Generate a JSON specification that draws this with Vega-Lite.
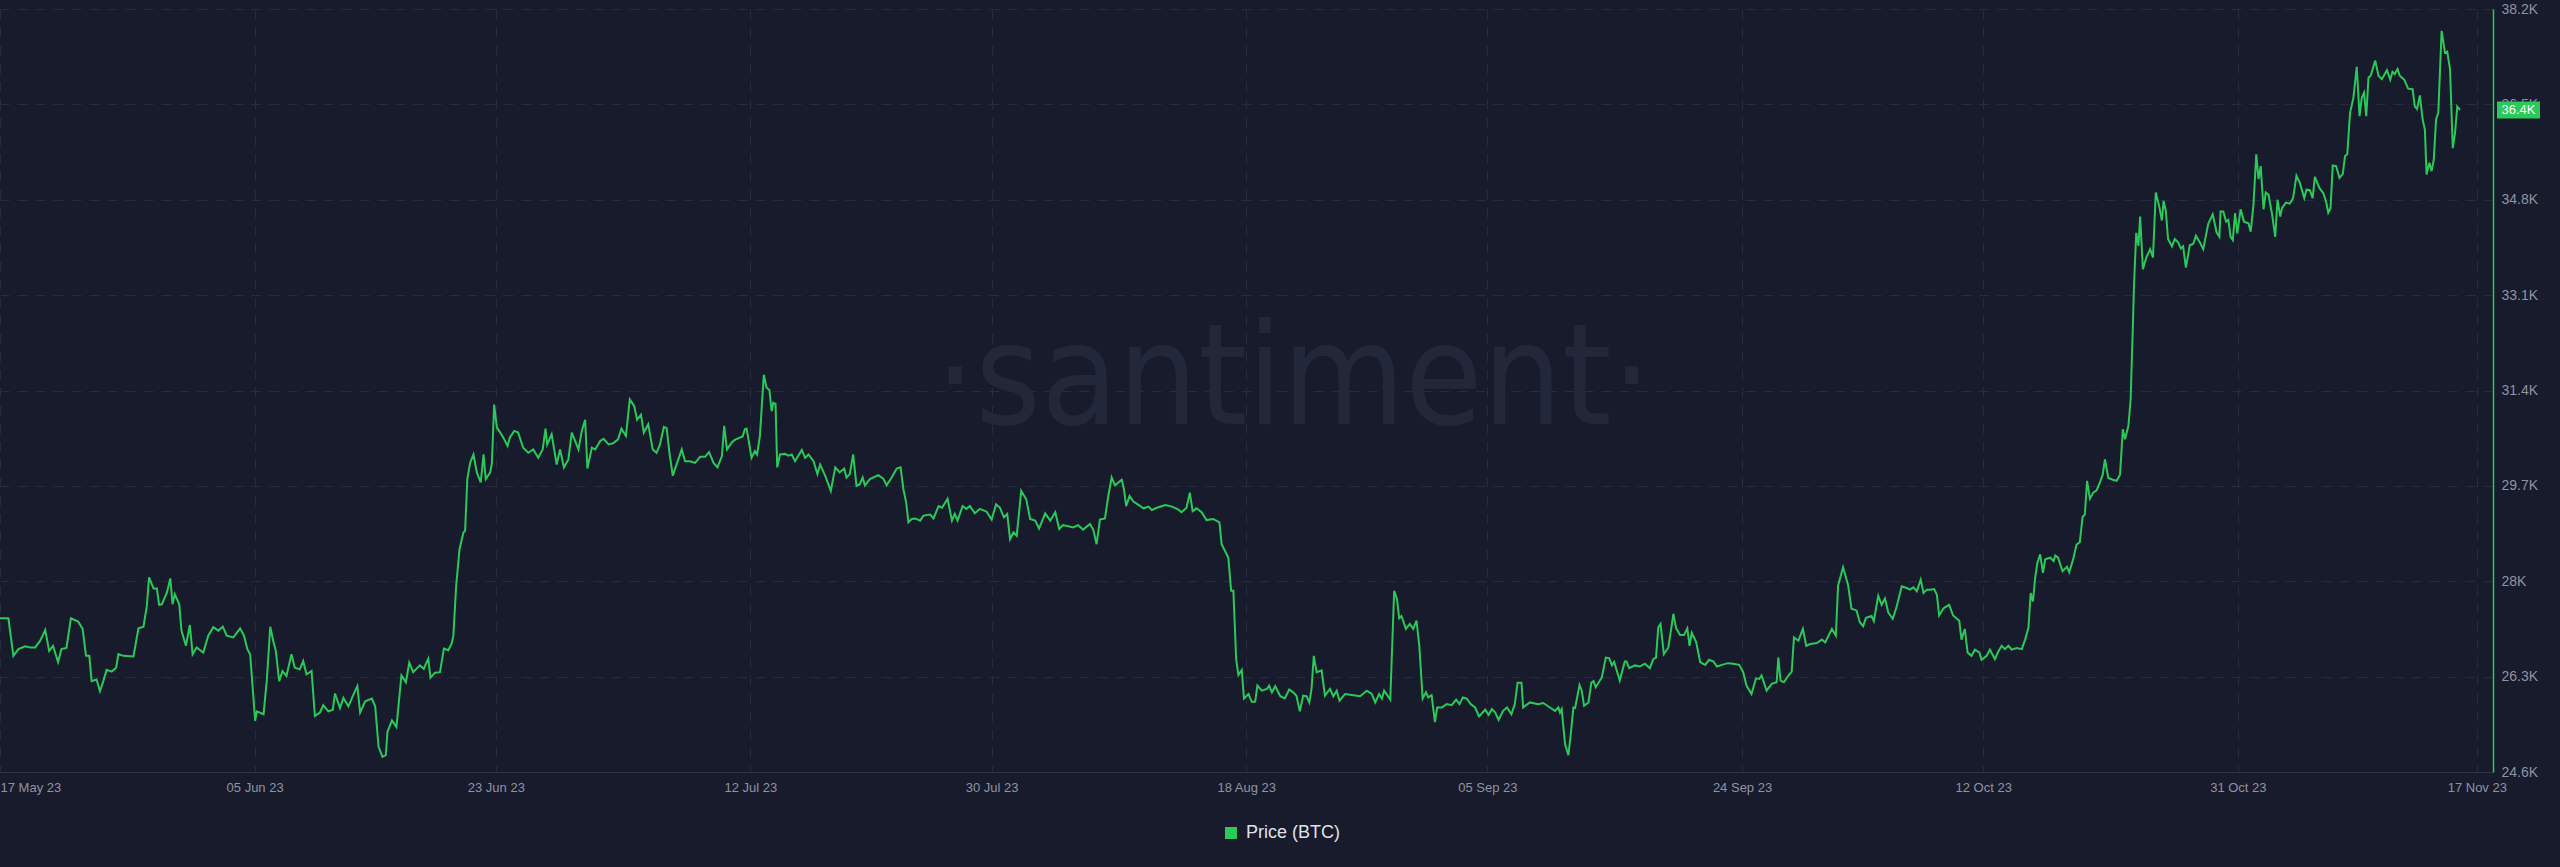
{
"$schema": "https://vega.github.io/schema/vega-lite/v6.json",
"width": 2493,
"height": 763,
"autosize": {"type": "none"},
"padding": {"left": 0, "top": 9, "right": 67, "bottom": 95},
"background": "#181b2b",
"config": {"view": {"stroke": null}, "font": "Liberation Sans"},
"datasets": {
"btc": [
{"time":"2023-05-17T00:00","price":27340},{"time":"2023-05-17T15:00","price":27340},{"time":"2023-05-18T00:00","price":26670},{"time":"2023-05-18T09:00","price":26790},{"time":"2023-05-18T21:00","price":26840},{"time":"2023-05-19T06:00","price":26820},{"time":"2023-05-19T15:00","price":26820},{"time":"2023-05-20T00:00","price":26940},{"time":"2023-05-20T09:00","price":27130},{"time":"2023-05-20T16:00","price":26760},{"time":"2023-05-20T23:00","price":26850},{"time":"2023-05-21T08:00","price":26560},{"time":"2023-05-21T14:00","price":26790},{"time":"2023-05-21T23:00","price":26810},{"time":"2023-05-22T07:00","price":27340},{"time":"2023-05-22T20:00","price":27280},{"time":"2023-05-23T04:00","price":27150},{"time":"2023-05-23T10:00","price":26670},{"time":"2023-05-23T16:00","price":26670},{"time":"2023-05-23T20:00","price":26220},{"time":"2023-05-24T05:00","price":26250},{"time":"2023-05-24T11:00","price":26040},{"time":"2023-05-24T17:00","price":26220},{"time":"2023-05-24T23:00","price":26420},{"time":"2023-05-25T08:00","price":26390},{"time":"2023-05-25T16:00","price":26460},{"time":"2023-05-25T20:00","price":26700},{"time":"2023-05-26T05:00","price":26670},{"time":"2023-05-26T23:00","price":26660},{"time":"2023-05-27T08:00","price":27160},{"time":"2023-05-27T17:00","price":27190},{"time":"2023-05-27T23:00","price":27560},{"time":"2023-05-28T03:00","price":28070},{"time":"2023-05-28T11:00","price":27870},{"time":"2023-05-28T17:00","price":27870},{"time":"2023-05-28T21:00","price":27580},{"time":"2023-05-29T02:00","price":27590},{"time":"2023-05-29T11:00","price":27800},{"time":"2023-05-29T17:00","price":28050},{"time":"2023-05-29T21:00","price":27590},{"time":"2023-05-30T01:00","price":27770},{"time":"2023-05-30T09:00","price":27590},{"time":"2023-05-30T13:00","price":27120},{"time":"2023-05-30T21:00","price":26850},{"time":"2023-05-31T04:00","price":27220},{"time":"2023-05-31T09:00","price":26700},{"time":"2023-05-31T16:00","price":26820},
{"time":"2023-06-01T04:00","price":26730},{"time":"2023-06-01T13:00","price":27030},{"time":"2023-06-01T22:00","price":27180},{"time":"2023-06-02T07:00","price":27120},{"time":"2023-06-02T15:00","price":27190},{"time":"2023-06-02T22:00","price":27030},{"time":"2023-06-03T10:00","price":27000},{"time":"2023-06-03T22:00","price":27160},{"time":"2023-06-04T05:00","price":27030},{"time":"2023-06-04T11:00","price":26790},{"time":"2023-06-04T16:00","price":26700},{"time":"2023-06-05T01:00","price":25510},{"time":"2023-06-05T04:00","price":25680},{"time":"2023-06-05T16:00","price":25630},{"time":"2023-06-05T22:00","price":26250},{"time":"2023-06-06T04:00","price":27190},{"time":"2023-06-06T10:00","price":26910},{"time":"2023-06-06T14:00","price":26760},{"time":"2023-06-06T20:00","price":26220},{"time":"2023-06-07T02:00","price":26400},{"time":"2023-06-07T09:00","price":26310},{"time":"2023-06-07T18:00","price":26700},{"time":"2023-06-08T00:00","price":26460},{"time":"2023-06-08T09:00","price":26430},{"time":"2023-06-08T15:00","price":26580},{"time":"2023-06-08T21:00","price":26340},{"time":"2023-06-09T06:00","price":26400},{"time":"2023-06-09T12:00","price":25600},{"time":"2023-06-09T21:00","price":25660},{"time":"2023-06-10T03:00","price":25790},{"time":"2023-06-10T12:00","price":25680},{"time":"2023-06-10T20:00","price":25710},{"time":"2023-06-11T00:00","price":26000},{"time":"2023-06-11T09:00","price":25740},{"time":"2023-06-11T15:00","price":25920},{"time":"2023-06-12T00:00","price":25770},{"time":"2023-06-12T09:00","price":25980},{"time":"2023-06-12T16:00","price":26130},{"time":"2023-06-12T21:00","price":25660},{"time":"2023-06-13T06:00","price":25860},{"time":"2023-06-13T18:00","price":25910},{"time":"2023-06-14T00:00","price":25770},{"time":"2023-06-14T06:00","price":25050},{"time":"2023-06-14T13:00","price":24870},{"time":"2023-06-14T19:00","price":24900},{"time":"2023-06-14T22:00","price":25320},{"time":"2023-06-15T06:00","price":25520},{"time":"2023-06-15T14:00","price":25400},{"time":"2023-06-15T23:00","price":26320},{"time":"2023-06-16T07:00","price":26200},{"time":"2023-06-16T13:00","price":26550},{"time":"2023-06-16T20:00","price":26380},{"time":"2023-06-17T08:00","price":26500},{"time":"2023-06-17T15:00","price":26440},{"time":"2023-06-17T23:00","price":26620},{"time":"2023-06-18T03:00","price":26280},{"time":"2023-06-18T11:00","price":26370},{"time":"2023-06-18T20:00","price":26380},{"time":"2023-06-19T03:00","price":26800},{"time":"2023-06-19T11:00","price":26770},{"time":"2023-06-19T17:00","price":26890},{"time":"2023-06-19T20:00","price":27030},{"time":"2023-06-20T01:00","price":27920},{"time":"2023-06-20T07:00","price":28570},{"time":"2023-06-20T14:00","price":28870},{"time":"2023-06-20T17:00","price":28900},{"time":"2023-06-20T21:00","price":29820},{"time":"2023-06-21T02:00","price":30110},{"time":"2023-06-21T08:00","price":30260},{"time":"2023-06-21T14:00","price":29940},{"time":"2023-06-21T21:00","price":29760},{"time":"2023-06-22T02:00","price":30260},{"time":"2023-06-22T06:00","price":29820},{"time":"2023-06-22T14:00","price":29940},{"time":"2023-06-22T17:00","price":30110},{"time":"2023-06-22T21:00","price":31150},{"time":"2023-06-23T02:00","price":30740},{"time":"2023-06-23T08:00","price":30650},{"time":"2023-06-23T15:00","price":30530},{"time":"2023-06-23T21:00","price":30410},{"time":"2023-06-24T01:00","price":30560},{"time":"2023-06-24T09:00","price":30680},{"time":"2023-06-24T16:00","price":30650},{"time":"2023-06-25T01:00","price":30380},{"time":"2023-06-25T10:00","price":30290},{"time":"2023-06-25T19:00","price":30350},{"time":"2023-06-26T04:00","price":30200},{"time":"2023-06-26T12:00","price":30350},{"time":"2023-06-26T17:00","price":30720},{"time":"2023-06-26T20:00","price":30440},{"time":"2023-06-27T04:00","price":30620},{"time":"2023-06-27T13:00","price":30080},{"time":"2023-06-27T19:00","price":30350},{"time":"2023-06-28T02:00","price":30030},{"time":"2023-06-28T10:00","price":30170},{"time":"2023-06-28T16:00","price":30650},{"time":"2023-06-28T22:00","price":30500},{"time":"2023-06-29T04:00","price":30350},{"time":"2023-06-29T10:00","price":30680},{"time":"2023-06-29T16:00","price":30880},{"time":"2023-06-29T20:00","price":30010},{"time":"2023-06-30T04:00","price":30380},{"time":"2023-06-30T10:00","price":30350},{"time":"2023-06-30T19:00","price":30500},
{"time":"2023-07-01T01:00","price":30540},{"time":"2023-07-01T10:00","price":30440},{"time":"2023-07-01T18:00","price":30460},{"time":"2023-07-02T03:00","price":30530},{"time":"2023-07-02T09:00","price":30720},{"time":"2023-07-02T17:00","price":30590},{"time":"2023-07-03T00:00","price":31240},{"time":"2023-07-03T08:00","price":31120},{"time":"2023-07-03T13:00","price":30880},{"time":"2023-07-03T20:00","price":30970},{"time":"2023-07-04T01:00","price":30650},{"time":"2023-07-04T09:00","price":30800},{"time":"2023-07-04T17:00","price":30350},{"time":"2023-07-05T00:00","price":30290},{"time":"2023-07-05T06:00","price":30440},{"time":"2023-07-05T13:00","price":30750},{"time":"2023-07-05T18:00","price":30730},{"time":"2023-07-05T23:00","price":30290},{"time":"2023-07-06T05:00","price":29880},{"time":"2023-07-06T11:00","price":30060},{"time":"2023-07-06T21:00","price":30350},{"time":"2023-07-07T03:00","price":30140},{"time":"2023-07-07T12:00","price":30140},{"time":"2023-07-07T21:00","price":30110},{"time":"2023-07-08T06:00","price":30220},{"time":"2023-07-08T15:00","price":30220},{"time":"2023-07-08T22:00","price":30300},{"time":"2023-07-09T06:00","price":30110},{"time":"2023-07-09T13:00","price":30030},{"time":"2023-07-09T21:00","price":30230},{"time":"2023-07-10T01:00","price":30770},{"time":"2023-07-10T06:00","price":30350},{"time":"2023-07-10T15:00","price":30480},{"time":"2023-07-10T20:00","price":30520},{"time":"2023-07-11T05:00","price":30560},{"time":"2023-07-11T10:00","price":30580},{"time":"2023-07-11T14:00","price":30710},{"time":"2023-07-11T17:00","price":30720},{"time":"2023-07-11T20:00","price":30560},{"time":"2023-07-12T02:00","price":30200},{"time":"2023-07-12T08:00","price":30320},{"time":"2023-07-12T12:00","price":30260},{"time":"2023-07-12T17:00","price":30590},{"time":"2023-07-12T20:00","price":31060},{"time":"2023-07-13T00:00","price":31680},{"time":"2023-07-13T05:00","price":31450},{"time":"2023-07-13T10:00","price":31410},{"time":"2023-07-13T14:00","price":31030},{"time":"2023-07-13T17:00","price":31180},{"time":"2023-07-13T21:00","price":31160},{"time":"2023-07-14T00:00","price":30030},{"time":"2023-07-14T05:00","price":30260},{"time":"2023-07-14T14:00","price":30270},{"time":"2023-07-14T20:00","price":30240},{"time":"2023-07-15T02:00","price":30260},{"time":"2023-07-15T08:00","price":30140},{"time":"2023-07-15T20:00","price":30340},{"time":"2023-07-16T02:00","price":30200},{"time":"2023-07-16T08:00","price":30260},{"time":"2023-07-16T17:00","price":30140},{"time":"2023-07-17T00:00","price":29910},{"time":"2023-07-17T05:00","price":30080},{"time":"2023-07-17T14:00","price":29880},{"time":"2023-07-18T00:00","price":29610},{"time":"2023-07-18T08:00","price":30030},{"time":"2023-07-18T16:00","price":29940},{"time":"2023-07-19T00:00","price":30010},{"time":"2023-07-19T04:00","price":29850},{"time":"2023-07-19T10:00","price":29910},{"time":"2023-07-19T16:00","price":30260},{"time":"2023-07-19T22:00","price":29700},{"time":"2023-07-20T04:00","price":29730},{"time":"2023-07-20T09:00","price":29850},{"time":"2023-07-20T13:00","price":29710},{"time":"2023-07-20T22:00","price":29820},{"time":"2023-07-21T13:00","price":29890},{"time":"2023-07-21T22:00","price":29830},{"time":"2023-07-22T04:00","price":29710},{"time":"2023-07-22T13:00","price":29850},{"time":"2023-07-22T22:00","price":30010},{"time":"2023-07-23T05:00","price":30030},{"time":"2023-07-23T10:00","price":29640},{"time":"2023-07-23T15:00","price":29400},{"time":"2023-07-23T19:00","price":29050},{"time":"2023-07-24T01:00","price":29110},{"time":"2023-07-24T07:00","price":29120},{"time":"2023-07-24T16:00","price":29080},{"time":"2023-07-24T22:00","price":29170},{"time":"2023-07-25T10:00","price":29190},{"time":"2023-07-25T16:00","price":29120},{"time":"2023-07-26T01:00","price":29340},{"time":"2023-07-26T07:00","price":29310},{"time":"2023-07-26T11:00","price":29370},{"time":"2023-07-26T17:00","price":29470},{"time":"2023-07-27T01:00","price":29080},{"time":"2023-07-27T06:00","price":29200},{"time":"2023-07-27T11:00","price":29080},{"time":"2023-07-27T20:00","price":29340},{"time":"2023-07-28T03:00","price":29290},{"time":"2023-07-28T09:00","price":29340},{"time":"2023-07-28T18:00","price":29210},{"time":"2023-07-29T03:00","price":29290},{"time":"2023-07-29T15:00","price":29240},{"time":"2023-07-30T00:00","price":29100},{"time":"2023-07-30T08:00","price":29370},{"time":"2023-07-30T15:00","price":29310},{"time":"2023-07-30T22:00","price":29140},{"time":"2023-07-31T04:00","price":29200},{"time":"2023-07-31T09:00","price":28750},{"time":"2023-07-31T15:00","price":28870},{"time":"2023-07-31T21:00","price":28810},
{"time":"2023-08-01T05:00","price":29610},{"time":"2023-08-01T14:00","price":29460},{"time":"2023-08-01T21:00","price":29110},{"time":"2023-08-02T06:00","price":29080},{"time":"2023-08-02T13:00","price":28940},{"time":"2023-08-03T00:00","price":29210},{"time":"2023-08-03T09:00","price":29080},{"time":"2023-08-03T18:00","price":29230},{"time":"2023-08-04T01:00","price":28930},{"time":"2023-08-04T08:00","price":29000},{"time":"2023-08-05T02:00","price":28960},{"time":"2023-08-05T11:00","price":29000},{"time":"2023-08-05T20:00","price":28920},{"time":"2023-08-06T08:00","price":29020},{"time":"2023-08-06T14:00","price":28920},{"time":"2023-08-06T20:00","price":28660},{"time":"2023-08-07T02:00","price":29100},{"time":"2023-08-07T11:00","price":29120},{"time":"2023-08-07T17:00","price":29520},{"time":"2023-08-07T23:00","price":29850},{"time":"2023-08-08T05:00","price":29710},{"time":"2023-08-08T17:00","price":29810},{"time":"2023-08-08T21:00","price":29640},{"time":"2023-08-09T01:00","price":29340},{"time":"2023-08-09T07:00","price":29520},{"time":"2023-08-09T14:00","price":29420},{"time":"2023-08-09T23:00","price":29360},{"time":"2023-08-10T08:00","price":29300},{"time":"2023-08-10T17:00","price":29330},{"time":"2023-08-10T23:00","price":29270},{"time":"2023-08-11T08:00","price":29310},{"time":"2023-08-11T23:00","price":29360},{"time":"2023-08-12T11:00","price":29330},{"time":"2023-08-12T22:00","price":29280},{"time":"2023-08-13T04:00","price":29230},{"time":"2023-08-13T13:00","price":29310},{"time":"2023-08-13T19:00","price":29580},{"time":"2023-08-14T00:00","price":29250},{"time":"2023-08-14T07:00","price":29300},{"time":"2023-08-14T16:00","price":29230},{"time":"2023-08-15T01:00","price":29090},{"time":"2023-08-15T13:00","price":29110},{"time":"2023-08-16T00:00","price":29050},{"time":"2023-08-16T04:00","price":28660},{"time":"2023-08-16T10:00","price":28540},{"time":"2023-08-16T16:00","price":28420},{"time":"2023-08-16T21:00","price":27830},{"time":"2023-08-17T01:00","price":27830},{"time":"2023-08-17T06:00","price":26610},{"time":"2023-08-17T10:00","price":26330},{"time":"2023-08-17T16:00","price":26420},{"time":"2023-08-17T20:00","price":25910},{"time":"2023-08-18T04:00","price":25990},{"time":"2023-08-18T10:00","price":25850},{"time":"2023-08-18T16:00","price":25850},{"time":"2023-08-18T20:00","price":26140},{"time":"2023-08-19T04:00","price":26050},{"time":"2023-08-19T13:00","price":26080},{"time":"2023-08-19T17:00","price":26140},{"time":"2023-08-19T22:00","price":26020},{"time":"2023-08-20T04:00","price":26130},{"time":"2023-08-20T13:00","price":25950},{"time":"2023-08-20T21:00","price":25910},{"time":"2023-08-21T05:00","price":26070},{"time":"2023-08-21T12:00","price":26020},{"time":"2023-08-21T18:00","price":25960},{"time":"2023-08-22T00:00","price":25680},{"time":"2023-08-22T06:00","price":25960},{"time":"2023-08-22T12:00","price":25950},{"time":"2023-08-22T17:00","price":25840},{"time":"2023-08-22T21:00","price":26080},{"time":"2023-08-23T01:00","price":26670},{"time":"2023-08-23T06:00","price":26380},{"time":"2023-08-23T15:00","price":26410},{"time":"2023-08-23T21:00","price":25960},{"time":"2023-08-24T06:00","price":26080},{"time":"2023-08-24T12:00","price":25950},{"time":"2023-08-24T18:00","price":26050},{"time":"2023-08-24T23:00","price":25870},{"time":"2023-08-25T09:00","price":25990},{"time":"2023-08-26T00:00","price":25970},{"time":"2023-08-26T12:00","price":25950},{"time":"2023-08-27T00:00","price":26050},{"time":"2023-08-27T09:00","price":25990},{"time":"2023-08-27T15:00","price":25840},{"time":"2023-08-27T22:00","price":25990},{"time":"2023-08-28T03:00","price":25910},{"time":"2023-08-28T07:00","price":26050},{"time":"2023-08-28T18:00","price":25890},{"time":"2023-08-29T01:00","price":27830},{"time":"2023-08-29T06:00","price":27680},{"time":"2023-08-29T10:00","price":27340},{"time":"2023-08-29T14:00","price":27380},{"time":"2023-08-29T22:00","price":27150},{"time":"2023-08-30T05:00","price":27240},{"time":"2023-08-30T11:00","price":27150},{"time":"2023-08-30T17:00","price":27300},{"time":"2023-08-30T22:00","price":26850},{"time":"2023-08-31T04:00","price":25910},{"time":"2023-08-31T10:00","price":26020},{"time":"2023-08-31T14:00","price":25930},{"time":"2023-08-31T20:00","price":25970},
{"time":"2023-09-01T02:00","price":25490},{"time":"2023-09-01T06:00","price":25750},{"time":"2023-09-01T14:00","price":25750},{"time":"2023-09-01T23:00","price":25810},{"time":"2023-09-02T08:00","price":25790},{"time":"2023-09-02T16:00","price":25890},{"time":"2023-09-02T22:00","price":25810},{"time":"2023-09-03T04:00","price":25930},{"time":"2023-09-03T11:00","price":25910},{"time":"2023-09-03T18:00","price":25810},{"time":"2023-09-04T02:00","price":25750},{"time":"2023-09-04T09:00","price":25590},{"time":"2023-09-04T20:00","price":25710},{"time":"2023-09-05T02:00","price":25620},{"time":"2023-09-05T08:00","price":25720},{"time":"2023-09-05T14:00","price":25660},{"time":"2023-09-05T20:00","price":25530},{"time":"2023-09-06T04:00","price":25690},{"time":"2023-09-06T11:00","price":25750},{"time":"2023-09-06T19:00","price":25630},{"time":"2023-09-07T01:00","price":25810},{"time":"2023-09-07T06:00","price":26190},{"time":"2023-09-07T13:00","price":26190},{"time":"2023-09-07T16:00","price":25750},{"time":"2023-09-08T04:00","price":25840},{"time":"2023-09-08T19:00","price":25810},{"time":"2023-09-09T04:00","price":25830},{"time":"2023-09-09T16:00","price":25750},{"time":"2023-09-10T01:00","price":25690},{"time":"2023-09-10T07:00","price":25750},{"time":"2023-09-10T10:00","price":25660},{"time":"2023-09-10T13:00","price":25720},{"time":"2023-09-10T19:00","price":25100},{"time":"2023-09-11T01:00","price":24900},{"time":"2023-09-11T05:00","price":25250},{"time":"2023-09-11T10:00","price":25750},{"time":"2023-09-11T13:00","price":25740},{"time":"2023-09-11T21:00","price":26150},{"time":"2023-09-12T01:00","price":26050},{"time":"2023-09-12T05:00","price":25780},{"time":"2023-09-12T13:00","price":25840},{"time":"2023-09-12T18:00","price":26190},{"time":"2023-09-12T22:00","price":26220},{"time":"2023-09-13T02:00","price":26110},{"time":"2023-09-13T13:00","price":26290},{"time":"2023-09-13T20:00","price":26640},{"time":"2023-09-14T02:00","price":26630},{"time":"2023-09-14T07:00","price":26500},{"time":"2023-09-14T11:00","price":26560},{"time":"2023-09-14T21:00","price":26230},{"time":"2023-09-15T06:00","price":26570},{"time":"2023-09-15T09:00","price":26570},{"time":"2023-09-15T14:00","price":26450},{"time":"2023-09-16T00:00","price":26500},{"time":"2023-09-16T09:00","price":26480},{"time":"2023-09-16T18:00","price":26530},{"time":"2023-09-17T03:00","price":26450},{"time":"2023-09-17T09:00","price":26610},{"time":"2023-09-17T14:00","price":26640},{"time":"2023-09-17T18:00","price":27180},{"time":"2023-09-17T22:00","price":27240},{"time":"2023-09-18T04:00","price":26700},{"time":"2023-09-18T12:00","price":26820},{"time":"2023-09-18T18:00","price":27210},{"time":"2023-09-18T21:00","price":27420},{"time":"2023-09-19T02:00","price":27160},{"time":"2023-09-19T09:00","price":27040},{"time":"2023-09-19T16:00","price":27040},{"time":"2023-09-19T22:00","price":27160},{"time":"2023-09-20T02:00","price":26850},{"time":"2023-09-20T06:00","price":27080},{"time":"2023-09-20T14:00","price":26910},{"time":"2023-09-20T21:00","price":26560},{"time":"2023-09-21T06:00","price":26510},{"time":"2023-09-21T13:00","price":26600},{"time":"2023-09-21T21:00","price":26570},{"time":"2023-09-22T03:00","price":26480},{"time":"2023-09-22T12:00","price":26510},{"time":"2023-09-22T23:00","price":26540},{"time":"2023-09-23T08:00","price":26530},{"time":"2023-09-23T19:00","price":26510},{"time":"2023-09-24T02:00","price":26380},{"time":"2023-09-24T08:00","price":26140},{"time":"2023-09-24T17:00","price":25990},{"time":"2023-09-25T01:00","price":26270},{"time":"2023-09-25T07:00","price":26260},{"time":"2023-09-25T11:00","price":26320},{"time":"2023-09-25T20:00","price":26050},{"time":"2023-09-26T05:00","price":26170},{"time":"2023-09-26T14:00","price":26200},{"time":"2023-09-26T17:00","price":26640},{"time":"2023-09-26T21:00","price":26230},{"time":"2023-09-27T03:00","price":26200},{"time":"2023-09-27T11:00","price":26320},{"time":"2023-09-27T17:00","price":26390},{"time":"2023-09-27T21:00","price":27000},{"time":"2023-09-28T05:00","price":26940},{"time":"2023-09-28T13:00","price":27150},{"time":"2023-09-28T19:00","price":26850},{"time":"2023-09-29T02:00","price":26880},{"time":"2023-09-29T14:00","price":26900},{"time":"2023-09-29T23:00","price":26960},{"time":"2023-09-30T05:00","price":26910},{"time":"2023-09-30T11:00","price":27030},{"time":"2023-09-30T17:00","price":27150},
{"time":"2023-10-01T00:00","price":27030},{"time":"2023-10-01T04:00","price":27920},{"time":"2023-10-01T13:00","price":28250},{"time":"2023-10-01T22:00","price":27930},{"time":"2023-10-02T04:00","price":27510},{"time":"2023-10-02T13:00","price":27480},{"time":"2023-10-02T19:00","price":27270},{"time":"2023-10-03T01:00","price":27200},{"time":"2023-10-03T06:00","price":27350},{"time":"2023-10-03T16:00","price":27380},{"time":"2023-10-03T20:00","price":27290},{"time":"2023-10-04T04:00","price":27740},{"time":"2023-10-04T10:00","price":27580},{"time":"2023-10-04T16:00","price":27690},{"time":"2023-10-04T22:00","price":27440},{"time":"2023-10-05T06:00","price":27330},{"time":"2023-10-05T13:00","price":27550},{"time":"2023-10-05T22:00","price":27910},{"time":"2023-10-06T07:00","price":27880},{"time":"2023-10-06T13:00","price":27850},{"time":"2023-10-06T19:00","price":27890},{"time":"2023-10-07T01:00","price":27820},{"time":"2023-10-07T08:00","price":28030},{"time":"2023-10-07T13:00","price":27790},{"time":"2023-10-07T19:00","price":27850},{"time":"2023-10-08T01:00","price":27850},{"time":"2023-10-08T08:00","price":27860},{"time":"2023-10-08T13:00","price":27760},{"time":"2023-10-08T17:00","price":27390},{"time":"2023-10-09T01:00","price":27520},{"time":"2023-10-09T11:00","price":27580},{"time":"2023-10-09T18:00","price":27390},{"time":"2023-10-10T01:00","price":27330},{"time":"2023-10-10T05:00","price":27300},{"time":"2023-10-10T09:00","price":26960},{"time":"2023-10-10T15:00","price":27150},{"time":"2023-10-10T20:00","price":26730},{"time":"2023-10-11T03:00","price":26670},{"time":"2023-10-11T09:00","price":26780},{"time":"2023-10-11T17:00","price":26730},{"time":"2023-10-11T21:00","price":26600},{"time":"2023-10-12T06:00","price":26670},{"time":"2023-10-12T12:00","price":26780},{"time":"2023-10-12T21:00","price":26610},{"time":"2023-10-13T03:00","price":26750},{"time":"2023-10-13T09:00","price":26850},{"time":"2023-10-13T15:00","price":26790},{"time":"2023-10-13T21:00","price":26850},{"time":"2023-10-14T03:00","price":26780},{"time":"2023-10-14T12:00","price":26810},{"time":"2023-10-14T21:00","price":26790},{"time":"2023-10-15T03:00","price":26960},{"time":"2023-10-15T09:00","price":27170},{"time":"2023-10-15T13:00","price":27790},{"time":"2023-10-15T17:00","price":27640},{"time":"2023-10-15T21:00","price":28060},{"time":"2023-10-16T01:00","price":28330},{"time":"2023-10-16T06:00","price":28480},{"time":"2023-10-16T11:00","price":28150},{"time":"2023-10-16T15:00","price":28390},{"time":"2023-10-17T00:00","price":28420},{"time":"2023-10-17T06:00","price":28360},{"time":"2023-10-17T09:00","price":28460},{"time":"2023-10-17T14:00","price":28420},{"time":"2023-10-17T22:00","price":28180},{"time":"2023-10-18T06:00","price":28260},{"time":"2023-10-18T10:00","price":28160},{"time":"2023-10-18T17:00","price":28390},{"time":"2023-10-18T23:00","price":28650},{"time":"2023-10-19T05:00","price":28700},{"time":"2023-10-19T10:00","price":29150},{"time":"2023-10-19T14:00","price":29190},{"time":"2023-10-19T18:00","price":29790},{"time":"2023-10-19T23:00","price":29470},{"time":"2023-10-20T05:00","price":29580},{"time":"2023-10-20T11:00","price":29620},{"time":"2023-10-20T17:00","price":29760},{"time":"2023-10-20T22:00","price":29900},{"time":"2023-10-21T02:00","price":30170},{"time":"2023-10-21T08:00","price":29840},{"time":"2023-10-21T16:00","price":29810},{"time":"2023-10-21T23:00","price":29790},{"time":"2023-10-22T05:00","price":29900},{"time":"2023-10-22T10:00","price":30710},{"time":"2023-10-22T14:00","price":30530},{"time":"2023-10-22T20:00","price":30770},{"time":"2023-10-23T00:00","price":31240},{"time":"2023-10-23T04:00","price":32550},{"time":"2023-10-23T06:00","price":33270},{"time":"2023-10-23T10:00","price":34210},{"time":"2023-10-23T14:00","price":33980},{"time":"2023-10-23T17:00","price":34500},{"time":"2023-10-23T22:00","price":33560},{"time":"2023-10-24T04:00","price":33770},{"time":"2023-10-24T11:00","price":33920},{"time":"2023-10-24T16:00","price":33770},{"time":"2023-10-24T21:00","price":34930},{"time":"2023-10-25T03:00","price":34690},{"time":"2023-10-25T08:00","price":34430},{"time":"2023-10-25T11:00","price":34780},{"time":"2023-10-25T15:00","price":34600},{"time":"2023-10-25T19:00","price":34100},{"time":"2023-10-26T02:00","price":33970},{"time":"2023-10-26T07:00","price":34100},{"time":"2023-10-26T13:00","price":34040},{"time":"2023-10-26T18:00","price":33930},{"time":"2023-10-26T22:00","price":33970},{"time":"2023-10-27T03:00","price":33590},{"time":"2023-10-27T10:00","price":33990},{"time":"2023-10-27T16:00","price":34010},{"time":"2023-10-27T21:00","price":34160},{"time":"2023-10-28T04:00","price":34040},{"time":"2023-10-28T10:00","price":33920},{"time":"2023-10-28T19:00","price":34370},{"time":"2023-10-29T03:00","price":34540},{"time":"2023-10-29T10:00","price":34220},{"time":"2023-10-29T15:00","price":34140},{"time":"2023-10-29T17:00","price":34590},{"time":"2023-10-29T22:00","price":34590},{"time":"2023-10-30T03:00","price":34410},{"time":"2023-10-30T07:00","price":34440},{"time":"2023-10-30T11:00","price":34140},{"time":"2023-10-30T15:00","price":34080},{"time":"2023-10-30T19:00","price":34560},{"time":"2023-10-30T23:00","price":34200},{"time":"2023-10-31T05:00","price":34630},{"time":"2023-10-31T11:00","price":34410},{"time":"2023-10-31T19:00","price":34380},{"time":"2023-10-31T23:00","price":34230},
{"time":"2023-11-01T04:00","price":34710},{"time":"2023-11-01T09:00","price":35610},{"time":"2023-11-01T13:00","price":35170},{"time":"2023-11-01T17:00","price":35400},{"time":"2023-11-01T22:00","price":34630},{"time":"2023-11-02T02:00","price":34930},{"time":"2023-11-02T07:00","price":34890},{"time":"2023-11-02T13:00","price":34560},{"time":"2023-11-02T19:00","price":34140},{"time":"2023-11-02T23:00","price":34800},{"time":"2023-11-03T04:00","price":34500},{"time":"2023-11-03T07:00","price":34650},{"time":"2023-11-03T14:00","price":34750},{"time":"2023-11-03T21:00","price":34730},{"time":"2023-11-04T03:00","price":34830},{"time":"2023-11-04T09:00","price":35230},{"time":"2023-11-04T15:00","price":35100},{"time":"2023-11-04T23:00","price":34830},{"time":"2023-11-05T03:00","price":34980},{"time":"2023-11-05T09:00","price":34970},{"time":"2023-11-05T14:00","price":34830},{"time":"2023-11-05T18:00","price":35210},{"time":"2023-11-06T02:00","price":35010},{"time":"2023-11-06T09:00","price":34920},{"time":"2023-11-06T14:00","price":34770},{"time":"2023-11-06T18:00","price":34570},{"time":"2023-11-06T22:00","price":34650},{"time":"2023-11-07T02:00","price":35410},{"time":"2023-11-07T08:00","price":35400},{"time":"2023-11-07T14:00","price":35190},{"time":"2023-11-07T20:00","price":35260},{"time":"2023-11-08T00:00","price":35580},{"time":"2023-11-08T04:00","price":35610},{"time":"2023-11-08T09:00","price":36350},{"time":"2023-11-08T15:00","price":36620},{"time":"2023-11-08T21:00","price":37170},{"time":"2023-11-09T02:00","price":36290},{"time":"2023-11-09T06:00","price":36620},{"time":"2023-11-09T10:00","price":36710},{"time":"2023-11-09T14:00","price":36290},{"time":"2023-11-09T18:00","price":36980},{"time":"2023-11-09T22:00","price":37010},{"time":"2023-11-10T06:00","price":37280},{"time":"2023-11-10T12:00","price":37010},{"time":"2023-11-10T18:00","price":36950},{"time":"2023-11-11T03:00","price":37110},{"time":"2023-11-11T09:00","price":36940},{"time":"2023-11-11T13:00","price":37080},{"time":"2023-11-11T17:00","price":37040},{"time":"2023-11-11T22:00","price":37130},{"time":"2023-11-12T02:00","price":37010},{"time":"2023-11-12T10:00","price":36940},{"time":"2023-11-12T17:00","price":36780},{"time":"2023-11-13T01:00","price":36770},{"time":"2023-11-13T05:00","price":36460},{"time":"2023-11-13T09:00","price":36420},{"time":"2023-11-13T14:00","price":36660},{"time":"2023-11-13T19:00","price":36230},{"time":"2023-11-13T23:00","price":36050},{"time":"2023-11-14T02:00","price":35250},{"time":"2023-11-14T07:00","price":35460},{"time":"2023-11-14T11:00","price":35310},{"time":"2023-11-14T15:00","price":35520},{"time":"2023-11-14T19:00","price":36230},{"time":"2023-11-14T23:00","price":36350},{"time":"2023-11-15T05:00","price":37810},{"time":"2023-11-15T11:00","price":37420},{"time":"2023-11-15T15:00","price":37440},{"time":"2023-11-15T20:00","price":37130},{"time":"2023-11-16T01:00","price":35720},{"time":"2023-11-16T05:00","price":35990},{"time":"2023-11-16T09:00","price":36460},{"time":"2023-11-16T14:00","price":36400}
],
"last": [{"time":"2023-11-16T14:00","price":36400,"label":"36.4K"}]
},
"layer": [
{
"data": {"values": [{"brand": "·santiment·"}]},
"mark": {"type": "text", "font": "DejaVu Sans Condensed, Roboto, Liberation Sans", "fontSize": 140, "fontWeight": 300, "color": "#22273a", "align": "center", "baseline": "alphabetic", "dx": 47, "dy": 33},
"encoding": {"text": {"field": "brand"}}
},
{
"encoding": {
"y": {"field": "price", "type": "quantitative",
"scale": {"domain": [24600, 38200], "zero": false, "nice": false},
"axis": {"title": null, "orient": "right",
"values": [24600, 26300, 28000, 29700, 31400, 33100, 34800, 36500, 38200],
"labelExpr": "format(datum.value / 1000, '.1~f') + 'K'",
"grid": true, "gridColor": "#262b3d", "gridDash": [10, 8], "gridWidth": 1,
"domain": true, "domainColor": "#2bc95a", "domainWidth": 1.5,
"ticks": false, "tickSize": 0, "labelPadding": 8, "labelAlign": "left", "labelBaseline": "middle",
"labelOverlap": false, "labelBound": false, "labelFlush": false,
"labelColor": "#8e93a4", "labelFontSize": 14, "labelFont": "Liberation Sans"}}
},
"layer": [
{
"data": {"name": "btc"},
"mark": {"type": "line", "strokeWidth": 2, "interpolate": "linear"},
"encoding": {
"x": {"field": "time", "type": "temporal",
"scale": {"domain": [{"year":2023,"month":5,"date":17}, {"year":2023,"month":11,"date":19,"hours":1}]},
"axis": {"title": null, "format": "%d %b %y",
"values": [{"year":2023,"month":5,"date":17},{"year":2023,"month":6,"date":5},{"year":2023,"month":6,"date":23},{"year":2023,"month":7,"date":12},{"year":2023,"month":7,"date":30},{"year":2023,"month":8,"date":18},{"year":2023,"month":9,"date":5},{"year":2023,"month":9,"date":24},{"year":2023,"month":10,"date":12},{"year":2023,"month":10,"date":31},{"year":2023,"month":11,"date":17,"hours":20}],
"grid": true, "gridColor": "#262b3d", "gridDash": [10, 8], "gridWidth": 1,
"domain": true, "domainColor": "#2e3345", "domainWidth": 1,
"ticks": false, "tickSize": 0, "labelPadding": 9, "labelFlush": true, "labelOverlap": false,
"labelColor": "#8e93a4", "labelFontSize": 13, "labelFont": "Liberation Sans"}},
"color": {"datum": "Price (BTC)", "scale": {"range": ["#2bc95a"]},
"legend": {"title": null, "orient": "none", "legendX": 1222, "legendY": 815, "direction": "horizontal",
"symbolType": "square", "symbolSize": 144, "symbolFillColor": "#2bc95a", "symbolStrokeWidth": 0,
"labelColor": "#dfe2ea", "labelFontSize": 18, "labelFont": "Liberation Sans", "labelOffset": 6, "padding": 0}}
}
},
{
"data": {"name": "last"},
"mark": {"type": "rect", "color": "#2bc95a", "xOffset": 4, "x2Offset": 47, "yOffset": -8.5, "y2Offset": 8.5},
"encoding": {
"x": {"value": "width"},
"x2": {"value": "width"},
"y2": {"field": "price"}
}
},
{
"data": {"name": "last"},
"mark": {"type": "text", "color": "#ffffff", "fontSize": 13, "font": "Liberation Sans", "align": "center", "baseline": "middle", "dx": 25.5},
"encoding": {
"x": {"value": "width"},
"text": {"field": "label"}
}
}
]
}
]
}
